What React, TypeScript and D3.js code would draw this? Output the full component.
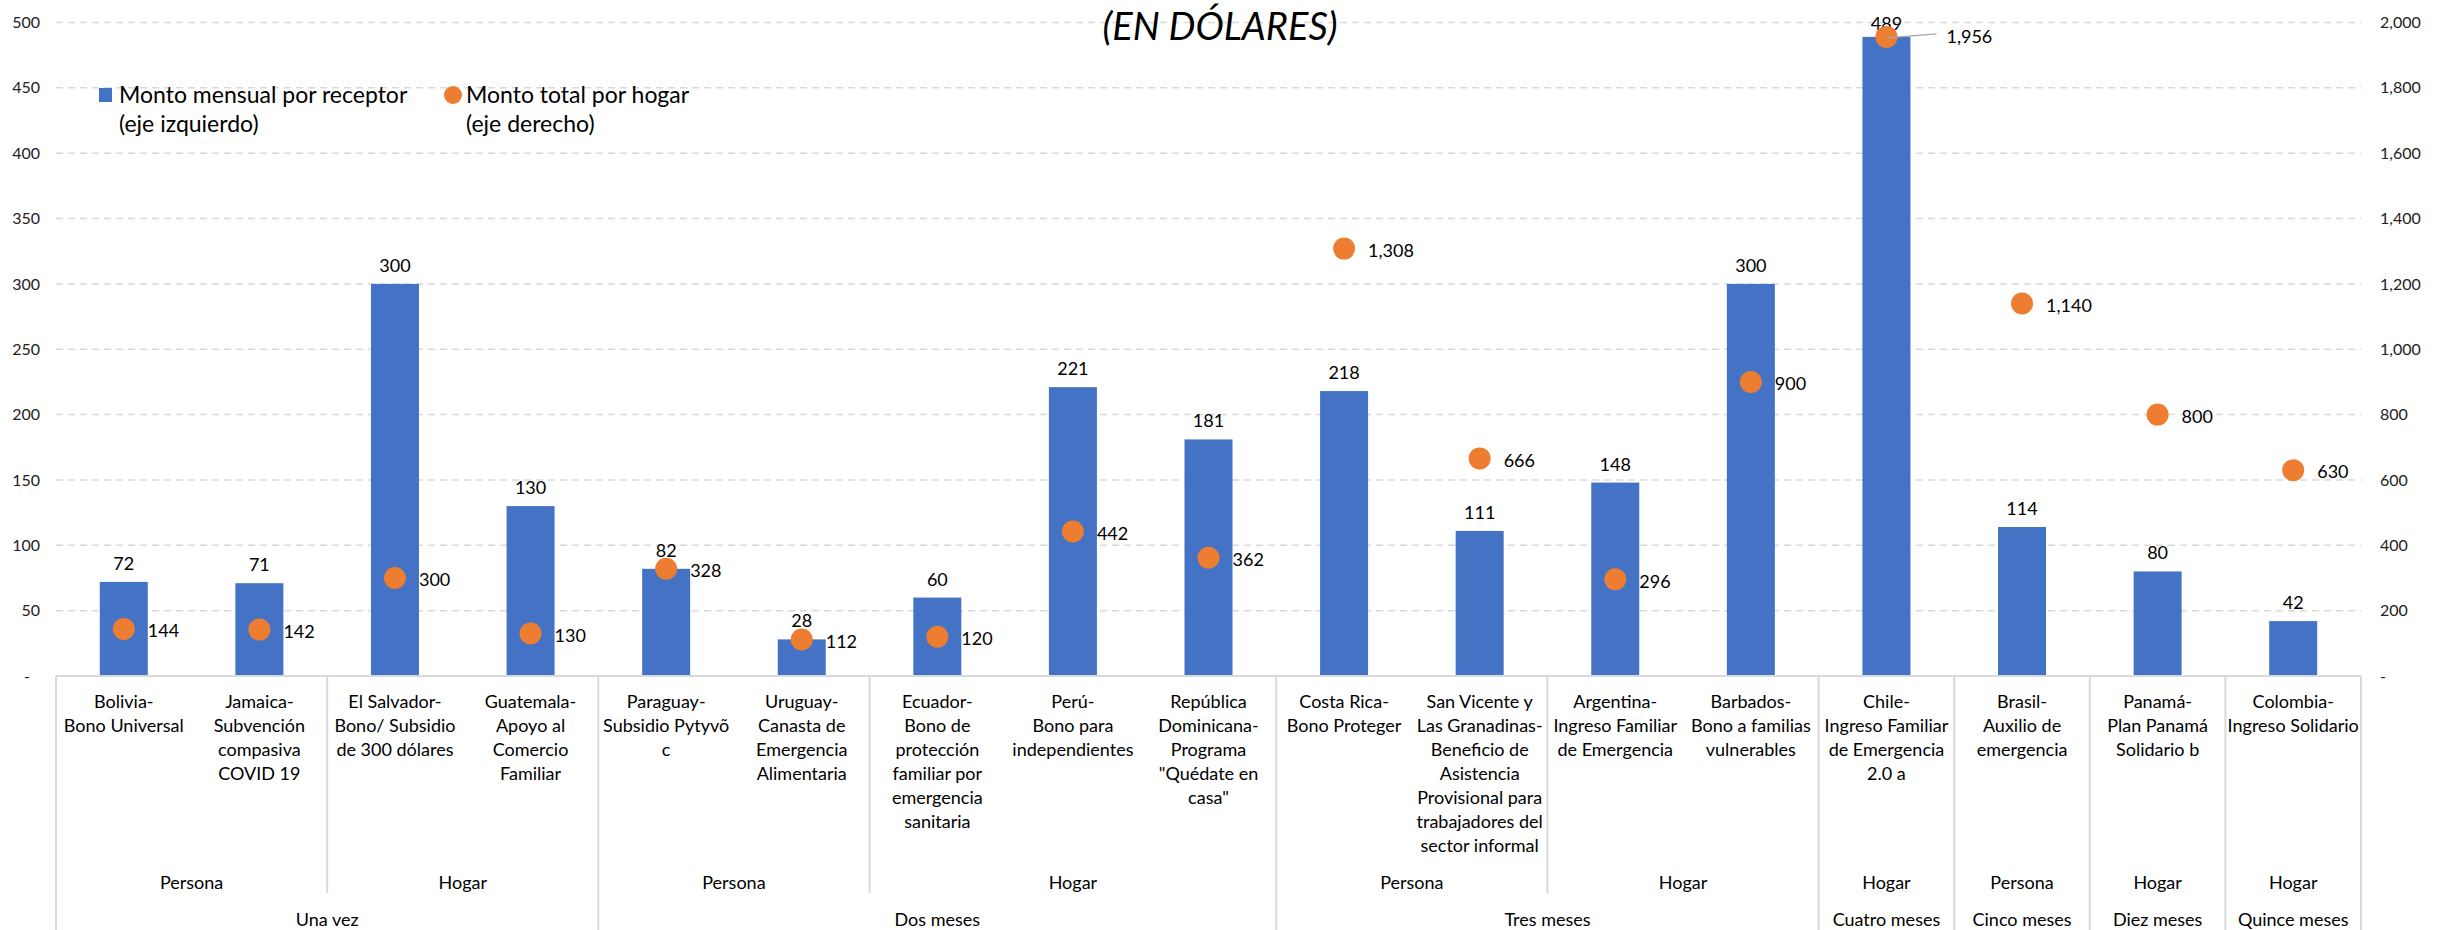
import React from 'react';
import * as d3 from 'd3';

// Programas (eje de categorías, nivel 1)
const programs = [
  'Bolivia', 'Jamaica', 'El Salvador', 'Guatemala', 'Paraguay', 'Uruguay', 'Ecuador', 'Perú',
  'República Dominicana', 'Costa Rica', 'San Vicente', 'Argentina', 'Barbados', 'Chile',
  'Brasil', 'Panamá', 'Colombia',
];

const programLines = [
  ['Bolivia-', 'Bono Universal'],
  ['Jamaica-', 'Subvención', 'compasiva', 'COVID 19'],
  ['El Salvador-', 'Bono/ Subsidio', 'de 300 dólares'],
  ['Guatemala-', 'Apoyo al', 'Comercio', 'Familiar'],
  ['Paraguay-', 'Subsidio Pytyvõ', 'c'],
  ['Uruguay-', 'Canasta de', 'Emergencia', 'Alimentaria'],
  ['Ecuador-', 'Bono de', 'protección', 'familiar por', 'emergencia', 'sanitaria'],
  ['Perú-', 'Bono para', 'independientes'],
  ['República', 'Dominicana-', 'Programa', '"Quédate en', 'casa"'],
  ['Costa Rica-', 'Bono Proteger'],
  ['San Vicente y', 'Las Granadinas-', 'Beneficio de', 'Asistencia', 'Provisional para', 'trabajadores del', 'sector informal'],
  ['Argentina-', 'Ingreso Familiar', 'de Emergencia'],
  ['Barbados-', 'Bono a familias', 'vulnerables'],
  ['Chile-', 'Ingreso Familiar', 'de Emergencia', '2.0 a'],
  ['Brasil-', 'Auxilio de', 'emergencia'],
  ['Panamá-', 'Plan Panamá', 'Solidario b'],
  ['Colombia-', 'Ingreso Solidario'],
];

// nivel 2: receptor
const receptorLabels = ['Persona', 'Hogar', 'Persona', 'Hogar', 'Persona', 'Hogar', 'Hogar', 'Persona', 'Hogar', 'Hogar'];
const receptorSpans = [2, 2, 2, 3, 2, 2, 1, 1, 1, 1];

// nivel 3: duración
const durationLabels = ['Una vez', 'Dos meses', 'Tres meses', 'Cuatro meses', 'Cinco meses', 'Diez meses', 'Quince meses'];
const durationSpans = [4, 5, 4, 1, 1, 1, 1];

// series
const monthlyPerRecipient = [72, 71, 300, 130, 82, 28, 60, 221, 181, 218, 111, 148, 300, 489, 114, 80, 42];
const totalPerHousehold = [144, 142, 300, 130, 328, 112, 120, 442, 362, 1308, 666, 296, 900, 1956, 1140, 800, 630];

const leftTicks = d3.range(0, 501, 50);
const rightTicks = d3.range(0, 2001, 200);

const W = 2440;
const H = 930;
const FONT = 'Lato, "Open Sans", sans-serif';
const BLUE = '#4472C4';
const ORANGE = '#ED7D31';
const LINE = '#D9D9D9';

const left = 56;
const right = 2361;
const y0 = 676;
const yTop = 22.5;

function spansToRanges(spans: number[]) {
  const out: [number, number][] = [];
  let s = 0;
  spans.forEach((n) => {
    out.push([s, s + n]);
    s += n;
  });
  return out;
}

export default function App() {
  const x = d3.scaleBand<string>().domain(programs).range([left, right]).paddingInner(0).paddingOuter(0);
  const bw = x.bandwidth();
  const barW = bw * 0.354;
  const yL = d3.scaleLinear().domain([0, 500]).range([y0, yTop]);
  const yR = d3.scaleLinear().domain([0, 2000]).range([y0, yTop]);
  const fmt = d3.format(',');

  const edge = (i: number) => left + i * bw;
  const recRanges = spansToRanges(receptorSpans);
  const durRanges = spansToRanges(durationSpans);
  const durBounds = new Set(durRanges.map((r) => r[1]));
  const maxIdx = totalPerHousehold.indexOf(d3.max(totalPerHousehold) as number);

  return (
    <svg width={W} height={H} style={{ position: 'absolute', left: 0, top: 0, background: '#fff' }} fontFamily={FONT}>
      {/* gridlines */}
      {leftTicks.slice(1).map((t) => (
        <line key={t} x1={left} x2={right} y1={yL(t)} y2={yL(t)} stroke={LINE} strokeWidth={1.5} strokeDasharray="7,5" />
      ))}

      {/* title */}
      <text x={W / 2} y={40} textAnchor="middle" fontSize={38} fontStyle="italic" fill="#000">(EN DÓLARES)</text>

      {/* left axis */}
      {leftTicks.map((t) => (
        <text key={t} x={t === 0 ? 30 : 40} y={yL(t)} dy="0.35em" textAnchor="end" fontSize={16} fill="#222">
          {t === 0 ? '-' : t}
        </text>
      ))}
      {/* right axis */}
      {rightTicks.map((t) => (
        <text key={t} x={2380} y={yR(t)} dy="0.35em" textAnchor="start" fontSize={16} fill="#222">
          {t === 0 ? '-' : fmt(t)}
        </text>
      ))}

      {/* bars */}
      {programs.map((p, i) => (
        <rect key={p} x={(x(p) as number) + (bw - barW) / 2} y={yL(monthlyPerRecipient[i])} width={barW}
          height={y0 - yL(monthlyPerRecipient[i])} fill={BLUE} />
      ))}
      {programs.map((p, i) => (
        <text key={p} x={(x(p) as number) + bw / 2} y={Math.max(yL(monthlyPerRecipient[i]) - 12, 30)}
          textAnchor="middle" fontSize={18} fill="#000">
          {monthlyPerRecipient[i]}
        </text>
      ))}

      {/* dots */}
      {programs.map((p, i) => (
        <circle key={p} cx={(x(p) as number) + bw / 2} cy={yR(totalPerHousehold[i])} r={11} fill={ORANGE} />
      ))}
      {programs.map((p, i) => {
        const cx = (x(p) as number) + bw / 2;
        const cy = yR(totalPerHousehold[i]);
        if (i === maxIdx) {
          return (
            <g key={p}>
              <line x1={cx} y1={cy + 1} x2={cx + 50} y2={cy - 3} stroke="#A6A6A6" strokeWidth={1.5} />
              <text x={cx + 60} y={cy} dy="0.35em" fontSize={18} fill="#000">{fmt(totalPerHousehold[i])}</text>
            </g>
          );
        }
        return (
          <text key={p} x={cx + 24} y={cy + 2} dy="0.35em" fontSize={18} fill="#000">{fmt(totalPerHousehold[i])}</text>
        );
      })}

      {/* category axis table */}
      <line x1={left} x2={right} y1={y0} y2={y0} stroke={LINE} strokeWidth={2} />
      <line x1={left} x2={left} y1={y0} y2={H} stroke={LINE} strokeWidth={2} />
      {recRanges.map((r, k) => (
        <line key={k} x1={edge(r[1])} x2={edge(r[1])} y1={y0} y2={durBounds.has(r[1]) ? H : 893} stroke={LINE} strokeWidth={2} />
      ))}

      {programLines.map((lines, i) => (
        <text key={i} x={(x(programs[i]) as number) + bw / 2} y={702} textAnchor="middle" fontSize={18} fill="#000">
          {lines.map((l, j) => (
            <tspan key={j} x={(x(programs[i]) as number) + bw / 2} y={702 + j * 24} dy="0.35em">{l}</tspan>
          ))}
        </text>
      ))}
      {recRanges.map((r, k) => (
        <text key={k} x={(edge(r[0]) + edge(r[1])) / 2} y={883} dy="0.35em" textAnchor="middle" fontSize={18} fill="#000">
          {receptorLabels[k]}
        </text>
      ))}
      {durRanges.map((r, k) => (
        <text key={k} x={(edge(r[0]) + edge(r[1])) / 2} y={920} dy="0.35em" textAnchor="middle" fontSize={18} fill="#000">
          {durationLabels[k]}
        </text>
      ))}

      {/* legend */}
      <rect x={99} y={88} width={13} height={14} fill={BLUE} />
      <text fontSize={23} fill="#000">
        <tspan x={119} y={95} dy="0.35em">Monto mensual por receptor</tspan>
        <tspan x={119} y={124} dy="0.35em">(eje izquierdo)</tspan>
      </text>
      <circle cx={453} cy={95} r={9} fill={ORANGE} />
      <text fontSize={23} fill="#000">
        <tspan x={466} y={95} dy="0.35em">Monto total por hogar</tspan>
        <tspan x={466} y={124} dy="0.35em">(eje derecho)</tspan>
      </text>
    </svg>
  );
}
